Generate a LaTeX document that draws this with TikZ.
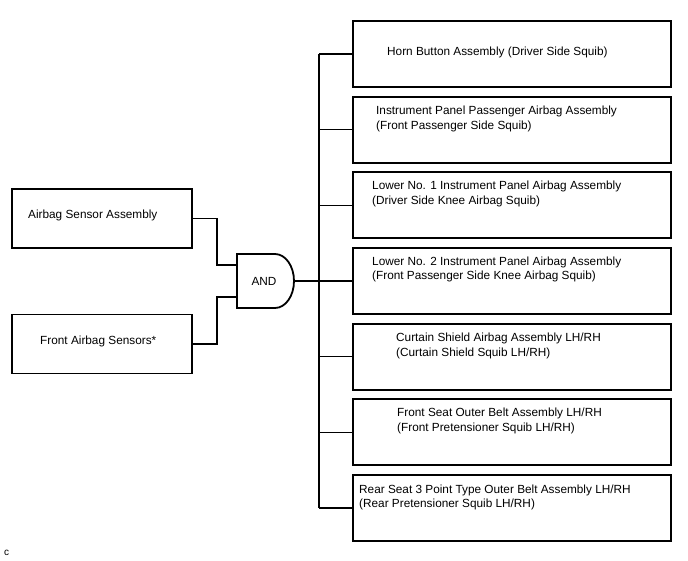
\documentclass[tikz,border=0pt]{standalone}
\usepackage{fontspec}
\setmainfont{Liberation Sans}
\begin{document}
\begin{tikzpicture}[x=1pt,y=-1pt,
  box/.style={draw,line width=1.8pt,minimum width=318pt,minimum height=66pt,inner sep=0pt,outer sep=0pt},
  lbox/.style={draw,line width=1.8pt,minimum width=180pt,minimum height=59pt,inner sep=0pt,outer sep=0pt},
  txt/.style={inner sep=0pt,anchor=west,align=left,font=\fontsize{11.8}{14.8}\selectfont},
  wire/.style={line width=1.4pt}]
\useasboundingbox (0,0) rectangle (688,560);
% left boxes
\node[lbox] (A) at (102,218.5) {};
\node[lbox] (B) at (102,344) {};
\node[txt] (tA) at (28,215) {Airbag Sensor Assembly};
\node[txt] (tB) at (40,341) {Front Airbag Sensors*};
% AND gate
\draw[line width=1.8pt] (237,254) -- (275,254) arc[start angle=90,end angle=-90,x radius=19pt,y radius=27pt] -- (237,308) -- cycle;
\node[txt,anchor=center] (gate) at (264,281) {AND};
\coordinate (gin1) at (237,265);
\coordinate (gin2) at (237,297);
\coordinate (gout) at (294,281);
\coordinate (bus) at (319,0);
% right boxes
\foreach \i in {1,...,7}{
  \node[box] (R\i) at (512,{54+75.67*(\i-1)}) {};
}
\node[txt] (t1) at (387,52.5) {Horn Button Assembly (Driver Side Squib)};
\node[txt] (t2) at (376,119) {Instrument Panel Passenger Airbag Assembly\\(Front Passenger Side Squib)};
\node[txt] (t3) at (372,194) {Lower No. 1 Instrument Panel Airbag Assembly\\(Driver Side Knee Airbag Squib)};
\node[txt] (t4) at (372,269.5) {Lower No. 2 Instrument Panel Airbag Assembly\\(Front Passenger Side Knee Airbag Squib)};
\node[txt] (t5) at (396,346) {Curtain Shield Airbag Assembly LH/RH\\(Curtain Shield Squib LH/RH)};
\node[txt] (t6) at (397,421) {Front Seat Outer Belt Assembly LH/RH\\(Front Pretensioner Squib LH/RH)};
\node[txt] (t7) at (359,497.5) {Rear Seat 3 Point Type Outer Belt Assembly LH/RH\\(Rear Pretensioner Squib LH/RH)};
% wires
\draw[wire] (A.east) -- ++(25,0) |- (gin1);
\draw[wire] (B.east) -- ++(25,0) |- (gin2);
\draw[wire] (gout) -- (gout -| bus);
\draw[wire] (R1.west -| bus) -- (R7.west -| bus);
\foreach \i in {1,...,7}{
  \draw[wire] (R\i.west -| bus) -- (R\i.west);
}
\node[inner sep=0pt,anchor=west,font=\fontsize{10}{11}\selectfont] (c) at (4,553) {c};
\end{tikzpicture}
\end{document}
